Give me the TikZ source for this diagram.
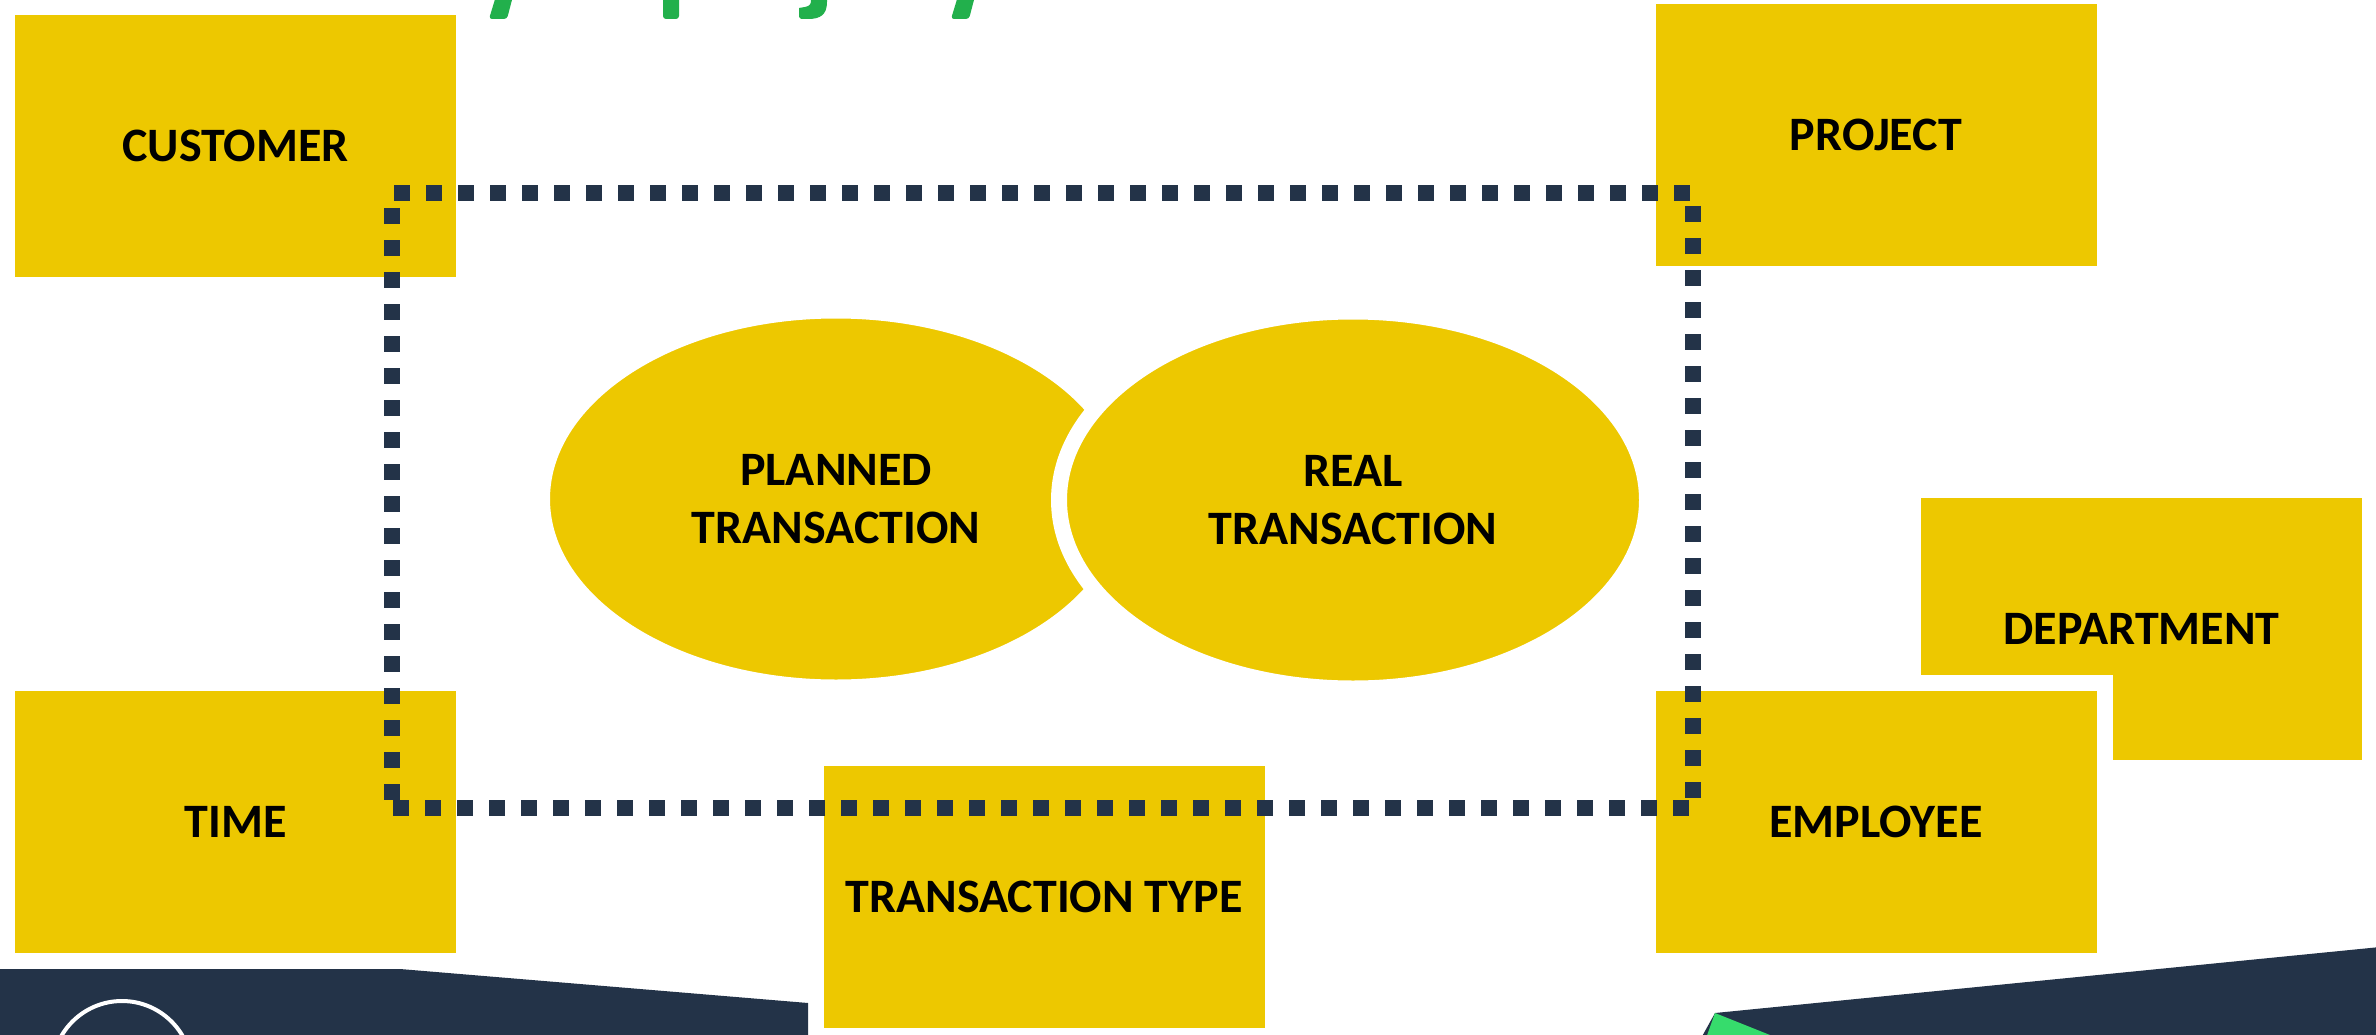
\documentclass[tikz,border=0pt]{standalone}
\usepackage{fontspec}
\setmainfont{Carlito}
\usepackage{tikz}
\usetikzlibrary{shapes.geometric}

\definecolor{boxyellow}{RGB}{237,200,0}
\definecolor{navy}{RGB}{35,51,72}
\definecolor{titlegreen}{RGB}{34,176,76}
\definecolor{brightgreen}{RGB}{54,220,108}

\begin{document}
\begin{tikzpicture}[x=1pt,y=-1pt,
    box/.style={rectangle,fill=boxyellow,draw=white,line width=16pt,inner sep=0pt,
      minimum width=457pt,minimum height=278pt,align=center,
      font=\fontsize{48}{58}\selectfont\bfseries},
    oval/.style={ellipse,fill=boxyellow,draw=white,line width=16pt,inner sep=0pt,
      minimum width=588pt,minimum height=377pt,align=center,
      font=\fontsize{48}{58}\selectfont\bfseries},
    dotline/.style={draw=navy,line width=16pt,dash pattern=on 16pt off 16pt}]
    \useasboundingbox (0,0) rectangle (2376,1035);
    \clip (0,0) rectangle (2376,1035);
    % cut-off title
    \fill [titlegreen,rounded corners=3pt] (496,-4) -- (513,-4) -- (507,19) -- (489,19) -- cycle;
    \fill [titlegreen,rounded corners=3pt] (663,-4) -- (679,-4) -- (679,19) -- (663,19) -- cycle;
    \fill [titlegreen] (811,-4) -- (827,-4) -- (827,2) .. controls (827,15) and (820,19) .. (808,19)
      -- (801,19) -- (799,17) -- (799,8) -- (805,7) .. controls (810,6) and (811,4) .. (811,0) -- cycle;
    \fill [titlegreen,rounded corners=3pt] (958,-4) -- (975,-4) -- (969,19) -- (951,19) -- cycle;
    % dimensions
    \node [box] (customer) at (235.5,146) {CUSTOMER};
    \node [box] (time) at (235.5,822) {TIME};
    \node [box] (project) at (1876,135) {PROJECT};
    \node [box] (department) at (2141.5,629) {DEPARTMENT};
    \node [box] (employee) at (1876,822) {EMPLOYEE};
    \node [box] (ttype) at (1044,897) {TRANSACTION TYPE};
    % facts
    \node [oval] (planned) at (836,499) {PLANNED\\TRANSACTION};
    \node [oval] (real) at (1353,500) {REAL\\TRANSACTION};
    % dotted frame
    \draw [dotline] (394,193) -- (1690,193);
    \draw [dotline] (1693,206) -- (1693,798);
    \draw [dotline] (393,808) -- (1689,808);
    \draw [dotline] (392,208) -- (392,800);
    % footer
    \fill [navy] (0,969) -- (400,969) -- (808,1003) -- (808,1040) -- (0,1040) -- cycle;
    \draw [white,line width=4pt] (122,1071) circle (70);
    \fill [navy] (1715,1013) -- (2380,947) -- (2380,1040) -- (1700,1040) -- cycle;
    \fill [brightgreen] (1715,1013) -- (1785,1041) -- (1705,1041) -- cycle;
\end{tikzpicture}
\end{document}
